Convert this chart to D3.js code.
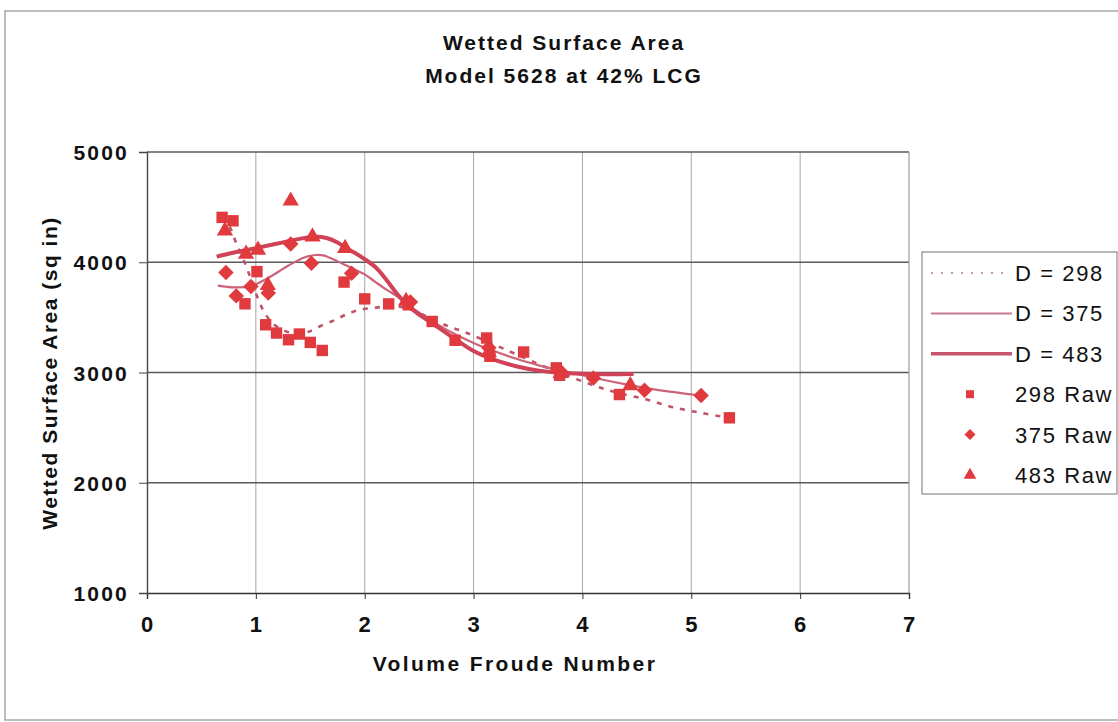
<!DOCTYPE html>
<html>
<head>
<meta charset="utf-8">
<script src="https://cdn.jsdelivr.net/npm/d3@7/dist/d3.min.js"></script>
<style>
  html, body { margin: 0; padding: 0; background: #fff; }
  svg { display: block; }
  text { font-family: "Liberation Sans", Arial, sans-serif; }
</style>
</head>
<body>
<svg id="chart" width="1118" height="722"></svg>
<script>
// ---------- data ----------
const titleLines = ["Wetted Surface Area", "Model 5628 at 42% LCG"];
const xAxisTitle = "Volume Froude Number";
const yAxisTitle = "Wetted Surface Area (sq in)";
const xTicks = [0, 1, 2, 3, 4, 5, 6, 7];
const yTicks = [1000, 2000, 3000, 4000, 5000];

// fitted curves [Fn, area]
const curve298 = [
  [0.69,4407],[0.76,4320],[0.82,4172],[0.90,3990],[0.95,3860],[1.00,3720],[1.07,3560],
  [1.15,3450],[1.25,3385],[1.35,3352],[1.45,3358],[1.50,3375],[1.59,3420],[1.73,3478],
  [1.85,3535],[1.96,3569],[2.08,3586],[2.20,3598],[2.30,3598],[2.40,3580],[2.60,3495],
  [2.77,3418],[2.86,3388],[3.00,3334],[3.33,3192],[3.60,3075],[3.80,2995],[4.08,2891],
  [4.30,2822],[4.59,2755],[4.83,2685],[5.10,2632],[5.35,2589]
];
const curve375 = [
  [0.65,3788],[0.80,3772],[0.95,3782],[1.10,3850],[1.30,3970],[1.45,4045],[1.55,4066],
  [1.62,4062],[1.70,4032],[1.80,3985],[1.90,3938],[2.00,3890],[2.10,3820],[2.20,3752],
  [2.30,3689],[2.40,3612],[2.60,3480],[2.80,3362],[3.00,3268],[3.20,3190],[3.40,3122],
  [3.60,3065],[3.80,3015],[4.00,2975],[4.20,2932],[4.40,2892],[4.60,2856],[4.80,2826],
  [5.00,2802],[5.09,2791]
];
const curve483 = [
  [0.64,4051],[0.80,4088],[1.00,4128],[1.20,4170],[1.40,4212],[1.55,4232],[1.65,4220],
  [1.75,4180],[1.82,4135],[1.90,4090],[2.00,4028],[2.10,3955],[2.20,3840],[2.30,3710],
  [2.40,3605],[2.50,3525],[2.60,3460],[2.80,3325],[3.00,3195],[3.20,3112],[3.40,3055],
  [3.60,3017],[3.80,2997],[4.00,2988],[4.20,2985],[4.47,2987]
];

// raw points [Fn, area]
const raw298 = [
  [0.69,4407],[0.79,4376],[0.90,3623],[1.01,3915],[1.09,3433],[1.19,3358],[1.30,3297],
  [1.40,3349],[1.50,3273],[1.61,3200],[1.81,3820],[2.00,3668],[2.22,3622],[2.40,3614],
  [2.62,3463],[2.83,3292],[3.12,3313],[3.15,3147],[3.46,3186],[3.76,3042],[3.79,2975],
  [4.34,2800],[5.35,2589]
];
const raw375 = [
  [0.725,3906],[0.82,3695],[0.955,3780],[1.114,3720],[1.32,4166],[1.51,3990],[1.88,3900],
  [2.42,3640],[3.14,3225],[3.80,3010],[4.10,2951],[4.57,2840],[5.09,2791]
];
const raw483 = [
  [0.716,4286],[0.91,4075],[1.02,4111],[1.11,3790],[1.32,4557],[1.52,4231],[1.82,4127],
  [2.38,3648],[3.14,3185],[3.80,2992],[4.44,2882]
];

const legendLabels = ["D = 298", "D = 375", "D = 483", "298 Raw", "375 Raw", "483 Raw"];

// ---------- drawing ----------
const svg = d3.select("#chart");
const W = 1118, H = 722;
const plot = { left: 147, right: 909, top: 152, bottom: 593 };

const x = d3.scaleLinear().domain([0, 7]).range([plot.left, plot.right]);
const y = d3.scaleLinear().domain([1000, 5000]).range([plot.bottom, plot.top]);

const markerColor = "#e03a3e";
const col298 = "#bf5468", col375 = "#cd6378", col483 = "#cf4257";

// outer chart border
svg.append("rect").attr("x", 5).attr("y", 11).attr("width", W + 10).attr("height", 709)
  .attr("fill", "#fff").attr("stroke", "#a8a8a8").attr("stroke-width", 1.5);

// title
svg.selectAll("text.title").data(titleLines).enter().append("text")
  .attr("class", "title")
  .attr("x", 564).attr("y", (d, i) => 50 + i * 33)
  .attr("text-anchor", "middle")
  .attr("font-size", 21).attr("font-weight", "bold")
  .attr("letter-spacing", "2px")
  .attr("fill", "#111")
  .text(d => d);

// grid
const g = svg.append("g");
g.selectAll("line.vg").data(xTicks.filter(t => t > 0 && t < 7)).enter().append("line")
  .attr("x1", d => x(d)).attr("x2", d => x(d))
  .attr("y1", plot.top).attr("y2", plot.bottom)
  .attr("stroke", "#a6a6a6").attr("stroke-width", 1);
g.selectAll("line.hg").data(yTicks.filter(t => t > 1000)).enter().append("line")
  .attr("x1", plot.left).attr("x2", plot.right)
  .attr("y1", d => y(d)).attr("y2", d => y(d))
  .attr("stroke", "#5a5a5a").attr("stroke-width", 1.3);
// right border of plot
g.append("line").attr("x1", plot.right).attr("x2", plot.right)
  .attr("y1", plot.top).attr("y2", plot.bottom)
  .attr("stroke", "#9a9a9a").attr("stroke-width", 1.2);

// axes
const xAxis = d3.axisBottom(x).tickValues(xTicks).tickSize(6).tickPadding(12).tickFormat(d3.format("d"));
const yAxis = d3.axisLeft(y).tickValues(yTicks).tickSize(8).tickPadding(10).tickFormat(d3.format("d"));

const gx = svg.append("g").attr("transform", `translate(0,${plot.bottom})`).call(xAxis);
gx.select(".domain").attr("stroke", "#333").attr("stroke-width", 1.4);
gx.selectAll(".tick line").attr("stroke", "#333");
gx.selectAll(".tick text").attr("font-size", 22).attr("font-weight", "bold")
  .attr("font-family", "Liberation Sans, Arial, sans-serif").attr("fill", "#111")
  .attr("dy", "0.95em").attr("letter-spacing", "1px");

const gy = svg.append("g").attr("transform", `translate(${plot.left},0)`).call(yAxis);
gy.select(".domain").attr("stroke", "#444").attr("stroke-width", 1.4);
gy.selectAll(".tick line").attr("stroke", "#444");
gy.selectAll(".tick text").attr("font-size", 21).attr("font-weight", "bold")
  .attr("font-family", "Liberation Sans, Arial, sans-serif").attr("fill", "#111")
  .attr("letter-spacing", "2.2px").attr("dy", "0.36em");

// axis titles
svg.append("text").attr("x", 515).attr("y", 671)
  .attr("text-anchor", "middle").attr("font-size", 21).attr("font-weight", "bold")
  .attr("letter-spacing", "2.4px").attr("fill", "#111").text(xAxisTitle);
svg.append("text").attr("transform", `translate(57,373) rotate(-90)`)
  .attr("text-anchor", "middle").attr("font-size", 21).attr("font-weight", "bold")
  .attr("letter-spacing", "1.5px").attr("fill", "#111").text(yAxisTitle);

// curves
const line = d3.line().x(d => x(d[0])).y(d => y(d[1])).curve(d3.curveCatmullRom.alpha(0.5));
svg.append("path").datum(curve298).attr("d", line).attr("fill", "none")
  .attr("stroke", col298).attr("stroke-width", 2.6).attr("stroke-dasharray", "5,7");
svg.append("path").datum(curve375).attr("d", line).attr("fill", "none")
  .attr("stroke", col375).attr("stroke-width", 2.2);
svg.append("path").datum(curve483).attr("d", line).attr("fill", "none")
  .attr("stroke", col483).attr("stroke-width", 4);

// markers
const sq = d3.symbol().type(d3.symbolSquare).size(130);
const fatDiamond = { draw(ctx, size) { const r = Math.sqrt(size / 2); ctx.moveTo(0, -r); ctx.lineTo(r, 0); ctx.lineTo(0, r); ctx.lineTo(-r, 0); ctx.closePath(); } };
const dm = d3.symbol().type(fatDiamond).size(120);
const tr = d3.symbol().type(d3.symbolTriangle).size(115);
function drawRaw(data, sym) {
  svg.append("g").selectAll("path").data(data).enter().append("path")
    .attr("d", sym)
    .attr("transform", d => `translate(${x(d[0])},${y(d[1])})`)
    .attr("fill", markerColor);
}
drawRaw(raw298, sq);
drawRaw(raw375, dm);
drawRaw(raw483, tr);

// legend
const lg = svg.append("g");
lg.append("rect").attr("x", 922).attr("y", 252).attr("width", 195).attr("height", 242)
  .attr("fill", "#fff").attr("stroke", "#8a8a8a").attr("stroke-width", 1.2);
const rowY = i => 273 + i * 40.4;
lg.selectAll("text").data(legendLabels).enter().append("text")
  .attr("x", 1015).attr("y", (d, i) => rowY(i)).attr("dy", "0.36em")
  .attr("font-size", 22).attr("letter-spacing", "1.6px").attr("fill", "#111")
  .text(d => d);
lg.append("line").attr("x1", 931).attr("x2", 1011).attr("y1", rowY(0)).attr("y2", rowY(0))
  .attr("stroke", "#b07a8a").attr("stroke-width", 1.6).attr("stroke-dasharray", "2,8");
lg.append("line").attr("x1", 931).attr("x2", 1012).attr("y1", rowY(1)).attr("y2", rowY(1))
  .attr("stroke", "#c77a8e").attr("stroke-width", 2);
lg.append("line").attr("x1", 931).attr("x2", 1012).attr("y1", rowY(2)).attr("y2", rowY(2))
  .attr("stroke", "#c5566c").attr("stroke-width", 3.4);
const lsyms = [d3.symbol().type(d3.symbolSquare).size(64), d3.symbol().type(fatDiamond).size(60), d3.symbol().type(d3.symbolTriangle).size(70)];
lsyms.forEach((s, i) => {
  lg.append("path").attr("d", s).attr("transform", `translate(970,${rowY(3 + i)})`).attr("fill", markerColor);
});
</script>
</body>
</html>
